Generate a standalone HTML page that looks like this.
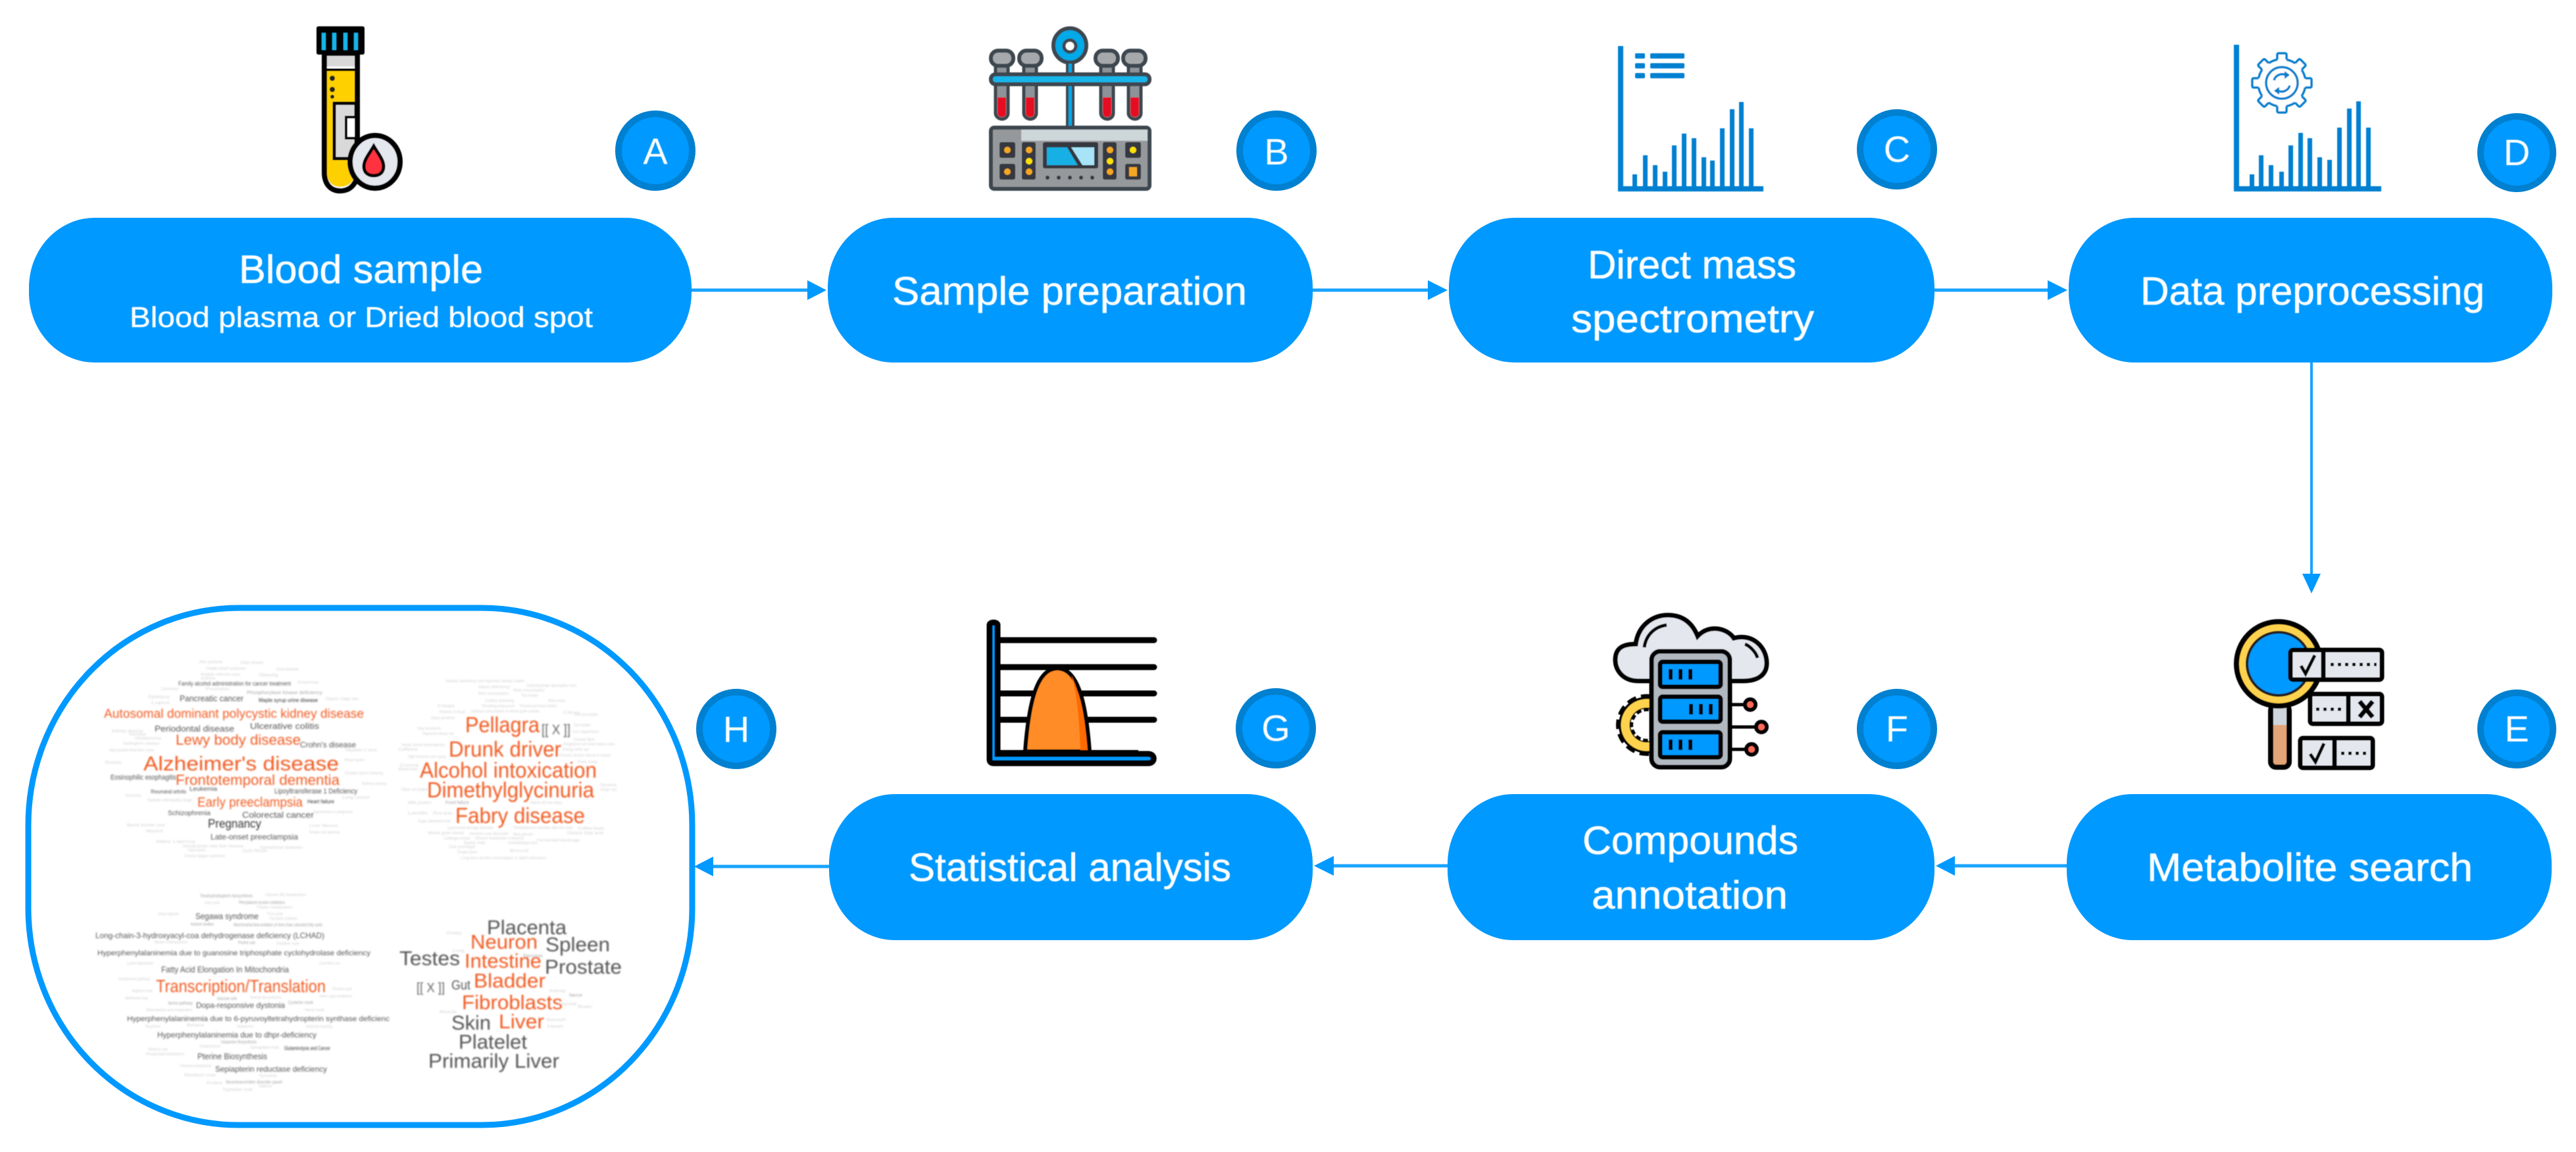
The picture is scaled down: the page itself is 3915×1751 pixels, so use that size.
<!DOCTYPE html>
<html lang="en"><head><meta charset="utf-8"><title>Direct mass spectrometry workflow</title>
<style>
html,body{margin:0;padding:0;background:#fff}
svg{display:block}
text{font-family:"Liberation Sans",sans-serif}
.t{fill:#fff;font-size:60px;stroke:#fff;stroke-width:.6px}
.s{fill:#fff;font-size:44px;stroke:#fff;stroke-width:.4px}
.b{fill:#fff;font-size:56px;text-anchor:middle}
.o{fill:#f05a22}
.g{fill:#555}
.d{fill:#333}
.f{fill:#d2d2d2;font-size:6px}
.k{fill:#a8a8a8;font-size:7px}
</style></head><body>
<svg xmlns="http://www.w3.org/2000/svg" width="3915" height="1751" viewBox="0 0 3915 1751">
<defs>
<filter id="bl" x="-5%" y="-5%" width="110%" height="110%"><feGaussianBlur stdDeviation="1"/></filter>
<filter id="bs" x="-5%" y="-5%" width="110%" height="110%"><feGaussianBlur stdDeviation="0.6"/></filter>
</defs>
<rect width="3915" height="1751" fill="#fff"/>

<!-- Connectors -->
<g stroke="#19a3ff" stroke-width="5" fill="#0099ff">
<line x1="1051" y1="441" x2="1230" y2="441"/>
<line x1="1995" y1="441" x2="2175" y2="441"/>
<line x1="2940" y1="441" x2="3116" y2="441"/>
<line x1="3513" y1="551" x2="3513" y2="875" stroke-width="4"/>
<line x1="3141" y1="1316" x2="2968" y2="1316"/>
<line x1="2200" y1="1316" x2="2024" y2="1316"/>
<line x1="1260" y1="1317" x2="1080" y2="1317"/>
</g>
<g fill="#0099ff">
<polygon points="1227,426 1256,441 1227,456"/>
<polygon points="2170,426 2200,441 2170,456"/>
<polygon points="3112,426 3142,441 3112,456"/>
<polygon points="3499,872 3527,872 3513,902"/>
<polygon points="2971,1301 2942,1316 2971,1331"/>
<polygon points="2027,1301 1997,1316 2027,1331"/>
<polygon points="1084,1302 1055,1317 1084,1332"/>
</g>

<!-- Process boxes -->
<g fill="#0099ff">
<rect x="44" y="331" width="1007" height="220" rx="100" ry="106"/>
<rect x="1258" y="331" width="737" height="220" rx="100" ry="106"/>
<rect x="2202" y="331" width="738" height="220" rx="100" ry="106"/>
<rect x="3144" y="331" width="735" height="220" rx="100" ry="106"/>
<rect x="3141" y="1207" width="737" height="222" rx="100" ry="106"/>
<rect x="2200" y="1207" width="740" height="222" rx="100" ry="106"/>
<rect x="1260" y="1207" width="735" height="222" rx="100" ry="106"/>
</g>
<g filter="url(#bs)">
<text class="t" x="363" y="430" textLength="371" lengthAdjust="spacingAndGlyphs">Blood sample</text>
<text class="s" x="197" y="497" textLength="704" lengthAdjust="spacingAndGlyphs">Blood plasma or Dried blood spot</text>
<text class="t" x="1356" y="463" textLength="539" lengthAdjust="spacingAndGlyphs">Sample preparation</text>
<text class="t" x="2413" y="423" textLength="317" lengthAdjust="spacingAndGlyphs">Direct mass</text>
<text class="t" x="2388" y="505" textLength="369" lengthAdjust="spacingAndGlyphs">spectrometry</text>
<text class="t" x="3253" y="463" textLength="523" lengthAdjust="spacingAndGlyphs">Data preprocessing</text>
<text class="t" x="3263" y="1339" textLength="495" lengthAdjust="spacingAndGlyphs">Metabolite search</text>
<text class="t" x="2405" y="1298" textLength="328" lengthAdjust="spacingAndGlyphs">Compounds</text>
<text class="t" x="2419" y="1381" textLength="298" lengthAdjust="spacingAndGlyphs">annotation</text>
<text class="t" x="1381" y="1339" textLength="490" lengthAdjust="spacingAndGlyphs">Statistical analysis</text>
</g>

<!-- Badges -->
<g fill="#0099ff" stroke="#0080d0" stroke-width="10">
<circle cx="996" cy="229" r="56"/><circle cx="1940" cy="229" r="56"/><circle cx="2883" cy="227" r="56"/><circle cx="3825" cy="232" r="55"/>
<circle cx="3825" cy="1108" r="55"/><circle cx="2883" cy="1108" r="56"/><circle cx="1939" cy="1107" r="56"/><circle cx="1119" cy="1108" r="56"/>
</g>
<g filter="url(#bs)">
<text class="b" x="996" y="249">A</text><text class="b" x="1940" y="250">B</text><text class="b" x="2883" y="246">C</text><text class="b" x="3825" y="251">D</text>
<text class="b" x="3825" y="1127">E</text><text class="b" x="2883" y="1127">F</text><text class="b" x="1939" y="1126">G</text><text class="b" x="1119" y="1128">H</text>
</g>

<!-- A: tube -->
<g filter="url(#bs)">
<path d="M493 83H543V262C543 278 533 290 517 290C501 290 493 278 493 262Z" fill="#fff" stroke="#000" stroke-width="8"/>
<rect x="497" y="85" width="42" height="16" fill="#d8d8d8"/>
<path d="M497 108H539V262C539 276 530 284 517 284C505 284 497 276 497 262Z" fill="#ffd000"/>
<line x1="493" y1="106" x2="543" y2="106" stroke="#000" stroke-width="4"/>
<circle cx="505" cy="119" r="4" fill="#222"/><circle cx="505" cy="136" r="4" fill="#222"/><circle cx="505" cy="147" r="3" fill="#222"/>
<rect x="508" y="157" width="33" height="84" fill="#d9d9d9" stroke="#000" stroke-width="5"/>
<rect x="526" y="178" width="15" height="32" fill="#fff" stroke="#000" stroke-width="4"/>
<rect x="481" y="40" width="73" height="43" rx="3" fill="#000"/>
<g fill="#19b5ea"><rect x="489" y="50" width="6" height="26"/><rect x="505" y="50" width="6" height="26"/><rect x="522" y="50" width="6" height="26"/><rect x="538" y="50" width="6" height="26"/></g>
<ellipse cx="570" cy="246" rx="38" ry="40" fill="#e4e8ee" stroke="#000" stroke-width="8"/>
<path d="M568 222C575 234 583 243 583 253C583 262 577 267 568 267C559 267 553 262 553 253C553 243 561 234 568 222Z" fill="#ff3040" stroke="#000" stroke-width="5"/>
</g>

<!-- B: rack -->
<g filter="url(#bs)">
<ellipse cx="1626" cy="69" rx="25" ry="26" fill="#00a9e8" stroke="#3d4650" stroke-width="6"/>
<circle cx="1626" cy="70" r="9" fill="#fff" stroke="#3d4650" stroke-width="5"/>
<rect x="1622" y="95" width="9" height="98" fill="#00a9e8" stroke="#3d4650" stroke-width="4"/>
<g fill="#8d9398" stroke="#3d4650" stroke-width="5">
<path d="M1513 100h19v72c0 5-4 9-9 9s-10-4-10-9Z"/><path d="M1556 100h19v72c0 5-4 9-9 9s-10-4-10-9Z"/><path d="M1673 100h19v72c0 5-4 9-9 9s-10-4-10-9Z"/><path d="M1715 100h19v72c0 5-4 9-9 9s-10-4-10-9Z"/>
</g>
<g fill="#e60d22">
<path d="M1516 148h13v24c0 4-3 6-6 6s-7-2-7-6Z"/><path d="M1559 148h13v24c0 4-3 6-6 6s-7-2-7-6Z"/><path d="M1676 148h13v24c0 4-3 6-6 6s-7-2-7-6Z"/><path d="M1718 148h13v24c0 4-3 6-6 6s-7-2-7-6Z"/>
</g>
<g fill="#a5a9ac" stroke="#3d4650" stroke-width="6">
<rect x="1506" y="77" width="34" height="23" rx="11"/><rect x="1549" y="77" width="34" height="23" rx="11"/><rect x="1665" y="77" width="34" height="23" rx="11"/><rect x="1707" y="77" width="34" height="23" rx="11"/>
</g>
<rect x="1506" y="113" width="241" height="15" rx="7" fill="#19b5ea" stroke="#3d4650" stroke-width="6"/>
<rect x="1506" y="194" width="241" height="93" rx="5" fill="#96999b" stroke="#3d4650" stroke-width="6"/>
<polygon points="1552,197 1744,197 1744,214 1552,214" fill="#cdd6d8"/>
<g fill="#34393f">
<rect x="1519" y="216" width="24" height="24" rx="3"/><rect x="1519" y="249" width="24" height="24" rx="3"/>
<rect x="1553" y="216" width="21" height="57" rx="3"/><rect x="1676" y="216" width="21" height="57" rx="3"/>
<rect x="1710" y="216" width="24" height="24" rx="3"/><rect x="1710" y="249" width="24" height="24" rx="3"/>
<rect x="1585" y="216" width="84" height="40" rx="3"/>
</g>
<polygon points="1591,224 1622,224 1638,251 1591,251" fill="#18b0e4"/>
<polygon points="1628,224 1663,224 1663,251 1645,251" fill="#a8e4f8"/>
<g fill="#f5a623"><circle cx="1531" cy="228" r="5"/><circle cx="1564" cy="228" r="5"/><circle cx="1531" cy="261" r="5"/><circle cx="1564" cy="261" r="5"/><circle cx="1687" cy="228" r="5"/><circle cx="1687" cy="261" r="5"/><rect x="1716" y="254" width="12" height="14"/></g>
<g fill="#ffe000"><circle cx="1564" cy="245" r="5"/><circle cx="1687" cy="245" r="5"/><circle cx="1722" cy="228" r="5"/></g>
<g fill="#34393f"><circle cx="1592" cy="270" r="3"/><circle cx="1609" cy="270" r="3"/><circle cx="1626" cy="270" r="3"/><circle cx="1643" cy="270" r="3"/><circle cx="1660" cy="270" r="3"/></g>
</g>

<!-- C: spectrum -->
<g fill="#0080d0" filter="url(#bs)">
<rect x="2459" y="70" width="8" height="221"/><rect x="2459" y="283" width="221" height="8"/>
<rect x="2481" y="265" width="7" height="20"/><rect x="2497" y="236" width="7" height="49"/><rect x="2512" y="251" width="7" height="34"/><rect x="2527" y="261" width="7" height="24"/><rect x="2541" y="221" width="7" height="64"/><rect x="2556" y="203" width="7" height="82"/><rect x="2571" y="210" width="7" height="75"/><rect x="2586" y="239" width="7" height="46"/><rect x="2599" y="244" width="7" height="41"/><rect x="2614" y="195" width="7" height="90"/><rect x="2629" y="166" width="7" height="119"/><rect x="2643" y="155" width="7" height="130"/><rect x="2658" y="195" width="7" height="90"/>
<rect x="2485" y="81" width="15" height="8" rx="2"/><rect x="2485" y="96" width="15" height="8" rx="2"/><rect x="2485" y="111" width="15" height="8" rx="2"/>
<rect x="2508" y="81" width="52" height="8" rx="2"/><rect x="2508" y="96" width="52" height="8" rx="2"/><rect x="2508" y="111" width="52" height="8" rx="2"/>
</g>

<!-- D: spectrum + gear -->
<g filter="url(#bs)">
<g fill="#0080d0">
<rect x="3395" y="68" width="8" height="223"/><rect x="3395" y="283" width="224" height="8"/>
<rect x="3419" y="265" width="7" height="20"/><rect x="3433" y="236" width="7" height="49"/><rect x="3448" y="251" width="7" height="34"/><rect x="3464" y="261" width="7" height="24"/><rect x="3478" y="221" width="7" height="64"/><rect x="3493" y="202" width="7" height="83"/><rect x="3507" y="210" width="7" height="75"/><rect x="3522" y="239" width="7" height="46"/><rect x="3537" y="243" width="7" height="42"/><rect x="3552" y="194" width="7" height="91"/><rect x="3567" y="165" width="7" height="120"/><rect x="3581" y="154" width="7" height="131"/><rect x="3596" y="194" width="7" height="91"/>
</g>
<g transform="translate(3468 126)" fill="#fff" stroke="#0080d0" stroke-width="3.5">
<rect x="-7" y="-45" width="14" height="18" rx="2"/>
<rect x="-7" y="-45" width="14" height="18" rx="2" transform="rotate(45)"/>
<rect x="-7" y="-45" width="14" height="18" rx="2" transform="rotate(90)"/>
<rect x="-7" y="-45" width="14" height="18" rx="2" transform="rotate(135)"/>
<rect x="-7" y="-45" width="14" height="18" rx="2" transform="rotate(180)"/>
<rect x="-7" y="-45" width="14" height="18" rx="2" transform="rotate(225)"/>
<rect x="-7" y="-45" width="14" height="18" rx="2" transform="rotate(270)"/>
<rect x="-7" y="-45" width="14" height="18" rx="2" transform="rotate(315)"/>
<circle r="36" stroke="none"/>
<circle r="36" fill="none" stroke-dasharray="14.27 14" stroke-dashoffset="-7"/>
<circle r="24" fill="none"/>
<path d="M-12 -4A13 13 0 0 1 6 -12M12 4A13 13 0 0 1 -6 12" fill="none"/>
<polygon points="4,-18 12,-12 4,-6" fill="#0080d0" stroke="none"/>
<polygon points="-4,18 -12,12 -4,6" fill="#0080d0" stroke="none"/>
</g>
</g>

<!-- E: magnifier -->
<g filter="url(#bs)">
<rect x="3451" y="1072" width="28" height="94" rx="8" fill="#e3a477" stroke="#000" stroke-width="8"/>
<rect x="3455" y="1076" width="20" height="26" fill="#cfd5dc"/>
<circle cx="3463" cy="1009" r="64" fill="#ffd24d" stroke="#000" stroke-width="8"/>
<circle cx="3463" cy="1009" r="48" fill="#0099ff" stroke="#222" stroke-width="4"/>
<g fill="#e4e8ee" stroke="#000" stroke-width="7">
<rect x="3481" y="988" width="139" height="45" rx="4"/><line x1="3531" y1="988" x2="3531" y2="1033"/>
<rect x="3511" y="1055" width="109" height="45" rx="4"/><line x1="3569" y1="1055" x2="3569" y2="1100"/>
<rect x="3496" y="1122" width="110" height="45" rx="4"/><line x1="3548" y1="1122" x2="3548" y2="1167"/>
</g>
<g fill="none" stroke="#000" stroke-width="5">
<path d="M3497 1012L3504 1024L3518 996"/><path d="M3511 1146L3519 1158L3532 1130"/><path d="M3586 1066L3606 1090M3606 1066L3586 1090" stroke-width="7"/>
</g>
<g stroke="#000" stroke-width="5" stroke-dasharray="5 6" fill="none">
<line x1="3542" y1="1010" x2="3612" y2="1010"/><line x1="3520" y1="1078" x2="3560" y2="1078"/><line x1="3558" y1="1145" x2="3598" y2="1145"/>
</g>
</g>

<!-- F: cloud server -->
<g filter="url(#bs)">
<circle cx="2503" cy="1102" r="34" fill="none" stroke="#000" stroke-width="26" stroke-dasharray="11 6"/>
<circle cx="2503" cy="1102" r="34" fill="none" stroke="#000" stroke-width="18"/>
<circle cx="2503" cy="1102" r="33" fill="none" stroke="#ffd24d" stroke-width="13"/>
<path d="M2490 1035C2466 1035 2455 1018 2455 1003C2455 984 2468 979 2486 979C2490 950 2512 935 2535 935C2558 935 2572 947 2580 967C2598 948 2625 955 2635 970C2665 962 2685 985 2685 1008C2685 1028 2668 1035 2650 1035Z" fill="#e4e8ee" stroke="#000" stroke-width="7"/>
<path d="M2499 984C2501 968 2512 953 2533 950M2652 979C2660 982 2669 992 2671 1000" fill="none" stroke="#000" stroke-width="5"/>
<rect x="2510" y="990" width="119" height="176" rx="13" fill="#b1b8c0" stroke="#000" stroke-width="7"/>
<g fill="#0099ff" stroke="#000" stroke-width="7">
<rect x="2523" y="1006" width="92" height="38" rx="4"/><rect x="2523" y="1059" width="92" height="38" rx="4"/><rect x="2523" y="1113" width="92" height="38" rx="4"/>
</g>
<g fill="#000">
<rect x="2536" y="1017" width="6" height="16"/><rect x="2551" y="1017" width="6" height="16"/><rect x="2566" y="1017" width="6" height="16"/>
<rect x="2567" y="1070" width="6" height="16"/><rect x="2582" y="1070" width="6" height="16"/><rect x="2597" y="1070" width="6" height="16"/>
<rect x="2536" y="1124" width="6" height="16"/><rect x="2551" y="1124" width="6" height="16"/><rect x="2566" y="1124" width="6" height="16"/>
</g>
<g stroke="#000" stroke-width="5"><line x1="2632" y1="1071" x2="2655" y2="1071"/><line x1="2632" y1="1105" x2="2672" y2="1105"/><line x1="2632" y1="1139" x2="2655" y2="1139"/></g>
<g fill="#ff6b5a" stroke="#000" stroke-width="6"><circle cx="2660" cy="1071" r="8"/><circle cx="2677" cy="1105" r="8"/><circle cx="2662" cy="1139" r="8"/></g>
</g>

<!-- G: bell chart -->
<g filter="url(#bs)">
<g stroke="#000" stroke-width="9" stroke-linecap="round"><line x1="1518" y1="973" x2="1754" y2="973"/><line x1="1518" y1="1014" x2="1754" y2="1014"/><line x1="1518" y1="1054" x2="1754" y2="1054"/><line x1="1518" y1="1094" x2="1754" y2="1094"/></g>
<line x1="1518" y1="1143" x2="1730" y2="1143" stroke="#000" stroke-width="6"/>
<path d="M1558 1142C1564 1060 1578 1016 1607 1016C1636 1016 1650 1060 1656 1142Z" fill="#ff8c26" stroke="#000" stroke-width="6"/>
<path d="M1628 1026C1640 1050 1649 1090 1653 1140H1642C1640 1090 1636 1050 1628 1026Z" fill="#ff6a00"/>
<path d="M1504 950C1504 945 1516 945 1516 950V1146H1745C1756 1146 1756 1160 1745 1160H1510C1506 1160 1504 1158 1504 1154Z" fill="#0099ff" stroke="#000" stroke-width="9"/>
</g>

<!-- H: word clouds frame -->
<rect x="43" y="924" width="1009" height="786" rx="320" ry="330" fill="#fff" stroke="#0099ff" stroke-width="9"/>

<g filter="url(#bl)">
<!-- Diseases -->
<text class="o" x="218" y="1171" font-size="31" textLength="297" lengthAdjust="spacingAndGlyphs">Alzheimer's disease</text>
<text class="o" x="158" y="1091" font-size="19" textLength="395" lengthAdjust="spacingAndGlyphs">Autosomal  dominant polycystic kidney disease</text>
<text class="o" x="267" y="1132" font-size="22" textLength="190" lengthAdjust="spacingAndGlyphs">Lewy body disease</text>
<text class="o" x="267" y="1193" font-size="22" textLength="249" lengthAdjust="spacingAndGlyphs">Frontotemporal dementia</text>
<text class="o" x="300" y="1226" font-size="20" textLength="160" lengthAdjust="spacingAndGlyphs">Early preeclampsia</text>
<text class="g" x="273" y="1066" font-size="13" textLength="97" lengthAdjust="spacingAndGlyphs">Pancreatic cancer</text>
<text class="g" x="235" y="1112" font-size="13" textLength="121" lengthAdjust="spacingAndGlyphs">Periodontal disease</text>
<text class="g" x="380" y="1108" font-size="13" textLength="105" lengthAdjust="spacingAndGlyphs">Ulcerative colitis</text>
<text class="g" x="456" y="1136" font-size="12" textLength="85" lengthAdjust="spacingAndGlyphs">Crohn's disease</text>
<text class="g" x="168" y="1185" font-size="11" textLength="100" lengthAdjust="spacingAndGlyphs">Eosinophilic esophagitis</text>
<text class="g" x="288" y="1202" font-size="9" textLength="42" lengthAdjust="spacingAndGlyphs">Leukemia</text>
<text class="g" x="229" y="1206" font-size="8" textLength="54" lengthAdjust="spacingAndGlyphs">Rheumatoid arthritis</text>
<text class="g" x="417" y="1206" font-size="11" textLength="126" lengthAdjust="spacingAndGlyphs">Lipoyltransferase 1 Deficiency</text>
<text class="d" x="467" y="1221" font-size="8" textLength="41" lengthAdjust="spacingAndGlyphs">Heart failure</text>
<text class="g" x="255" y="1239" font-size="10" textLength="65" lengthAdjust="spacingAndGlyphs">Schizophrenia</text>
<text class="g" x="368" y="1243" font-size="13" textLength="109" lengthAdjust="spacingAndGlyphs">Colorectal cancer</text>
<text class="d" x="316" y="1258" font-size="18" textLength="81" lengthAdjust="spacingAndGlyphs">Pregnancy</text>
<text class="g" x="320" y="1276" font-size="12" textLength="133" lengthAdjust="spacingAndGlyphs">Late-onset preeclampsia</text>
<text class="g" x="271" y="1042" font-size="9" textLength="171" lengthAdjust="spacingAndGlyphs">Family alcohol administration for cancer treatment</text>
<text class="d" x="393" y="1067" font-size="8" textLength="90" lengthAdjust="spacingAndGlyphs">Maple syrup urine disease</text>
<text class="k" x="375" y="1055" textLength="115" lengthAdjust="spacingAndGlyphs">Phosphorylase kinase deficiency</text>
<text class="f" x="303" y="1008" textLength="35" lengthAdjust="spacingAndGlyphs">Rett syndrome</text>
<text class="f" x="365" y="1009" textLength="35" lengthAdjust="spacingAndGlyphs">Celiac disease</text>
<text class="f" x="313" y="1018" textLength="60" lengthAdjust="spacingAndGlyphs">Irritable bowel syndrome</text>
<text class="f" x="420" y="1019" textLength="34" lengthAdjust="spacingAndGlyphs">Gout disease</text>
<text class="f" x="305" y="1027" textLength="60" lengthAdjust="spacingAndGlyphs">Multiple sclerosis case</text>
<text class="f" x="393" y="1028" textLength="30" lengthAdjust="spacingAndGlyphs">Obesity</text>
<text class="f" x="305" y="1033" textLength="22" lengthAdjust="spacingAndGlyphs">Asthma</text>
<text class="f" x="452" y="1039" textLength="32" lengthAdjust="spacingAndGlyphs">Anemia</text>
<text class="f" x="245" y="1049" textLength="26" lengthAdjust="spacingAndGlyphs">Cirrhosis</text>
<text class="f" x="313" y="1049" textLength="36" lengthAdjust="spacingAndGlyphs">Psoriasis</text>
<text class="f" x="225" y="1061" textLength="33" lengthAdjust="spacingAndGlyphs">Epilepsy</text>
<text class="f" x="495" y="1064" textLength="50" lengthAdjust="spacingAndGlyphs">Sepsis stage two</text>
<text class="f" x="230" y="1070" textLength="28" lengthAdjust="spacingAndGlyphs">Lupus</text>
<text class="f" x="196" y="1118" textLength="26" lengthAdjust="spacingAndGlyphs">Stroke</text>
<text class="f" x="170" y="1113" textLength="48" lengthAdjust="spacingAndGlyphs">Kidney disease</text>
<text class="f" x="205" y="1124" textLength="40" lengthAdjust="spacingAndGlyphs">Glioblastoma</text>
<text class="f" x="187" y="1132" textLength="55" lengthAdjust="spacingAndGlyphs">Huntington's disease</text>
<text class="f" x="166" y="1142" textLength="68" lengthAdjust="spacingAndGlyphs">Myocardial infarction case</text>
<text class="f" x="525" y="1142" textLength="48" lengthAdjust="spacingAndGlyphs">Hepatitis C virus</text>
<text class="f" x="160" y="1161" textLength="25" lengthAdjust="spacingAndGlyphs">Rickets</text>
<text class="f" x="524" y="1157" textLength="30" lengthAdjust="spacingAndGlyphs">Breast cancer</text>
<text class="f" x="524" y="1177" textLength="58" lengthAdjust="spacingAndGlyphs">Prostate cancer screening</text>
<text class="f" x="550" y="1193" textLength="38" lengthAdjust="spacingAndGlyphs">Bulimia nervosa</text>
<text class="f" x="190" y="1211" textLength="24" lengthAdjust="spacingAndGlyphs">Anorexia</text>
<text class="f" x="224" y="1218" textLength="68" lengthAdjust="spacingAndGlyphs">Diabetic retinopathy stage</text>
<text class="f" x="520" y="1214" textLength="42" lengthAdjust="spacingAndGlyphs">Lung cancer</text>
<text class="f" x="476" y="1236" textLength="60" lengthAdjust="spacingAndGlyphs">Hypertension in pregnancy</text>
<text class="f" x="193" y="1256" textLength="58" lengthAdjust="spacingAndGlyphs">Bipolar disorder case</text>
<text class="f" x="470" y="1257" textLength="44" lengthAdjust="spacingAndGlyphs">Liver fibrosis</text>
<text class="f" x="222" y="1265" textLength="26" lengthAdjust="spacingAndGlyphs">Migraine</text>
<text class="f" x="470" y="1267" textLength="46" lengthAdjust="spacingAndGlyphs">Sickle cell anemia</text>
<text class="f" x="263" y="1281" textLength="34" lengthAdjust="spacingAndGlyphs">Leprosy</text>
<text class="f" x="237" y="1281" textLength="22" lengthAdjust="spacingAndGlyphs">Malaria</text>
<text class="f" x="278" y="1288" textLength="92" lengthAdjust="spacingAndGlyphs">Nonalcoholic fatty liver disease</text>
<text class="f" x="395" y="1290" textLength="65" lengthAdjust="spacingAndGlyphs">Gestational diabetes</text>
<text class="f" x="285" y="1294" textLength="28" lengthAdjust="spacingAndGlyphs">Tuberculosis</text>
<text class="f" x="368" y="1295" textLength="38" lengthAdjust="spacingAndGlyphs">Cystic fibrosis</text>
<text class="f" x="280" y="1303" textLength="62" lengthAdjust="spacingAndGlyphs">Chronic fatigue syndrome</text>

<!-- Toxins/Foods -->
<text class="o" x="707" y="1113" font-size="33" textLength="113" lengthAdjust="spacingAndGlyphs">Pellagra</text>
<text fill="#666" x="823" y="1116" font-size="21" textLength="44" lengthAdjust="spacingAndGlyphs">[[ X ]]</text>
<text class="o" x="682" y="1150" font-size="33" textLength="171" lengthAdjust="spacingAndGlyphs">Drunk driver</text>
<text class="o" x="638" y="1182" font-size="33" textLength="269" lengthAdjust="spacingAndGlyphs">Alcohol intoxication</text>
<text class="o" x="649" y="1212" font-size="33" textLength="254" lengthAdjust="spacingAndGlyphs">Dimethylglycinuria</text>
<text class="o" x="692" y="1251" font-size="33" textLength="197" lengthAdjust="spacingAndGlyphs">Fabry disease</text>
<text class="k" x="677" y="1222" textLength="36" lengthAdjust="spacingAndGlyphs">Food failure</text>
<text class="f" x="677" y="1037" textLength="120" lengthAdjust="spacingAndGlyphs">Vitamin deficiency and reported dietary intake</text>
<text class="f" x="727" y="1046" textLength="48" lengthAdjust="spacingAndGlyphs">Niacin deficiency</text>
<text class="f" x="800" y="1044" textLength="76" lengthAdjust="spacingAndGlyphs">Carbohydrate absorption test</text>
<text class="f" x="727" y="1056" textLength="46" lengthAdjust="spacingAndGlyphs">Beer consumption</text>
<text class="f" x="780" y="1051" textLength="48" lengthAdjust="spacingAndGlyphs">Wine consumption</text>
<text class="f" x="737" y="1067" textLength="44" lengthAdjust="spacingAndGlyphs">Coffee drinking</text>
<text class="f" x="792" y="1059" textLength="26" lengthAdjust="spacingAndGlyphs">Tea intake</text>
<text class="f" x="833" y="1067" textLength="26" lengthAdjust="spacingAndGlyphs">Red meat</text>
<text class="f" x="732" y="1075" textLength="50" lengthAdjust="spacingAndGlyphs">Smoking exposure</text>
<text class="f" x="790" y="1075" textLength="56" lengthAdjust="spacingAndGlyphs">Processed food intake</text>
<text class="f" x="665" y="1075" textLength="26" lengthAdjust="spacingAndGlyphs">Folate</text>
<text class="f" x="667" y="1084" textLength="40" lengthAdjust="spacingAndGlyphs">Vitamin D level</text>
<text class="f" x="716" y="1083" textLength="104" lengthAdjust="spacingAndGlyphs">Habitual consumption of whole grain cereals</text>
<text class="f" x="856" y="1085" textLength="26" lengthAdjust="spacingAndGlyphs">Citrus</text>
<text class="f" x="655" y="1093" textLength="36" lengthAdjust="spacingAndGlyphs">Dairy product</text>
<text class="f" x="873" y="1088" textLength="36" lengthAdjust="spacingAndGlyphs">Fish consumption</text>
<text class="f" x="634" y="1109" textLength="36" lengthAdjust="spacingAndGlyphs">Soy products</text>
<text class="f" x="872" y="1104" textLength="26" lengthAdjust="spacingAndGlyphs">Nut intake</text>
<text class="f" x="642" y="1117" textLength="48" lengthAdjust="spacingAndGlyphs">Vegetarian dietary use</text>
<text class="f" x="870" y="1114" textLength="40" lengthAdjust="spacingAndGlyphs">Iron supplement</text>
<text class="f" x="872" y="1126" textLength="32" lengthAdjust="spacingAndGlyphs">Cereal fibre</text>
<text class="f" x="610" y="1134" textLength="66" lengthAdjust="spacingAndGlyphs">Hepatic alcohol dehydrogenase</text>
<text class="f" x="856" y="1133" textLength="78" lengthAdjust="spacingAndGlyphs">Polyphenol rich food intake score</text>
<text class="f" x="605" y="1141" textLength="30" lengthAdjust="spacingAndGlyphs">Caffeine</text>
<text class="f" x="855" y="1141" textLength="40" lengthAdjust="spacingAndGlyphs">Energy drink use</text>
<text class="f" x="620" y="1152" textLength="58" lengthAdjust="spacingAndGlyphs">High fructose corn syrup</text>
<text class="f" x="850" y="1150" textLength="78" lengthAdjust="spacingAndGlyphs">Chronic alcohol abuse in cohort</text>
<text class="f" x="608" y="1165" textLength="28" lengthAdjust="spacingAndGlyphs">Cocoa</text>
<text class="f" x="878" y="1160" textLength="30" lengthAdjust="spacingAndGlyphs">Pork meat</text>
<text class="f" x="605" y="1171" textLength="30" lengthAdjust="spacingAndGlyphs">Wheat bran</text>
<text class="f" x="610" y="1202" textLength="40" lengthAdjust="spacingAndGlyphs">Olive oil intake</text>
<text class="f" x="912" y="1195" textLength="25" lengthAdjust="spacingAndGlyphs">Sesame</text>
<text class="f" x="912" y="1202" textLength="25" lengthAdjust="spacingAndGlyphs">Ginger root</text>
<text class="f" x="620" y="1222" textLength="36" lengthAdjust="spacingAndGlyphs">Milk protein</text>
<text class="f" x="805" y="1222" textLength="50" lengthAdjust="spacingAndGlyphs">Vitamin B3 low status</text>
<text class="f" x="620" y="1238" textLength="30" lengthAdjust="spacingAndGlyphs">Lentils</text>
<text class="f" x="658" y="1238" textLength="30" lengthAdjust="spacingAndGlyphs">Rice bran</text>
<text class="f" x="635" y="1250" textLength="50" lengthAdjust="spacingAndGlyphs">Sugar sweetened drink</text>
<text class="f" x="680" y="1260" textLength="70" lengthAdjust="spacingAndGlyphs">Lysosomal storage disorder</text>
<text class="f" x="780" y="1260" textLength="90" lengthAdjust="spacingAndGlyphs">Trimethylamine excretion after fish meal</text>
<text class="f" x="878" y="1261" textLength="40" lengthAdjust="spacingAndGlyphs">Coffee bean</text>
<text class="f" x="650" y="1268" textLength="55" lengthAdjust="spacingAndGlyphs">Whole grain bread</text>
<text class="f" x="713" y="1269" textLength="60" lengthAdjust="spacingAndGlyphs">Alcohol use disorder</text>
<text class="f" x="780" y="1270" textLength="30" lengthAdjust="spacingAndGlyphs">Beta glucan</text>
<text class="f" x="862" y="1268" textLength="55" lengthAdjust="spacingAndGlyphs">Dietary fatty acid</text>
<text class="f" x="675" y="1276" textLength="40" lengthAdjust="spacingAndGlyphs">Cabbage extract</text>
<text class="f" x="722" y="1276" textLength="74" lengthAdjust="spacingAndGlyphs">Ethanol metabolite in plasma</text>
<text class="f" x="816" y="1279" textLength="65" lengthAdjust="spacingAndGlyphs">Fermented beverage</text>
<text class="f" x="705" y="1283" textLength="32" lengthAdjust="spacingAndGlyphs">Barley malt</text>
<text class="f" x="772" y="1283" textLength="44" lengthAdjust="spacingAndGlyphs">Acetaldehyde test</text>
<text class="f" x="682" y="1289" textLength="40" lengthAdjust="spacingAndGlyphs">Oat porridge</text>
<text class="f" x="695" y="1297" textLength="30" lengthAdjust="spacingAndGlyphs">Grape juice</text>
<text class="f" x="775" y="1295" textLength="28" lengthAdjust="spacingAndGlyphs">Broccoli</text>
<text class="f" x="700" y="1306" textLength="130" lengthAdjust="spacingAndGlyphs">Long term alcohol consumption in adult volunteers</text>

<!-- Pathways -->
<text class="o" x="237" y="1508" font-size="27" textLength="258" lengthAdjust="spacingAndGlyphs">Transcription/Translation</text>
<text class="g" x="297" y="1397" font-size="13" textLength="96" lengthAdjust="spacingAndGlyphs">Segawa syndrome</text>
<text class="g" x="145" y="1426" font-size="12" textLength="348" lengthAdjust="spacingAndGlyphs">Long-chain-3-hydroxyacyl-coa dehydrogenase deficiency (LCHAD)</text>
<text class="g" x="148" y="1452" font-size="11" textLength="415" lengthAdjust="spacingAndGlyphs">Hyperphenylalaninemia due to guanosine triphosphate cyclohydrolase deficiency</text>
<text class="g" x="245" y="1478" font-size="13" textLength="194" lengthAdjust="spacingAndGlyphs">Fatty Acid Elongation In Mitochondria</text>
<text class="g" x="298" y="1532" font-size="12" textLength="135" lengthAdjust="spacingAndGlyphs">Dopa-responsive dystonia</text>
<text class="g" x="193" y="1552" font-size="11" textLength="399" lengthAdjust="spacingAndGlyphs">Hyperphenylalaninemia due to 6-pyruvoyltetrahydropterin synthase deficienc</text>
<text class="g" x="239" y="1577" font-size="12" textLength="242" lengthAdjust="spacingAndGlyphs">Hyperphenylalaninemia due to dhpr-deficiency</text>
<text class="d" x="432" y="1596" font-size="8" textLength="70" lengthAdjust="spacingAndGlyphs">Glutaminolysis and Cancer</text>
<text class="g" x="300" y="1610" font-size="13" textLength="106" lengthAdjust="spacingAndGlyphs">Pterine Biosynthesis</text>
<text class="g" x="327" y="1629" font-size="12" textLength="170" lengthAdjust="spacingAndGlyphs">Sepiapterin reductase deficiency</text>
<text class="k" x="304" y="1364" textLength="80" lengthAdjust="spacingAndGlyphs">Tetrahydrobiopterin biosynthesis</text>
<text class="f" x="403" y="1362" textLength="62" lengthAdjust="spacingAndGlyphs">Vitamin B6 metabolism</text>
<text class="k" x="363" y="1374" textLength="70" lengthAdjust="spacingAndGlyphs">Phenylalanine tyrosine metabolism</text>
<text class="f" x="310" y="1374" textLength="24" lengthAdjust="spacingAndGlyphs">Urea cycle</text>
<text class="f" x="390" y="1381" textLength="55" lengthAdjust="spacingAndGlyphs">Folate metabolism</text>
<text class="f" x="240" y="1391" textLength="32" lengthAdjust="spacingAndGlyphs">Glycolysis</text>
<text class="f" x="405" y="1391" textLength="25" lengthAdjust="spacingAndGlyphs">TCA cycle</text>
<text class="f" x="410" y="1398" textLength="42" lengthAdjust="spacingAndGlyphs">Pyruvate oxidation</text>
<text class="k" x="290" y="1407" textLength="35" lengthAdjust="spacingAndGlyphs">Ketone bodies</text>
<text class="k" x="355" y="1408" textLength="135" lengthAdjust="spacingAndGlyphs">Mitochondrial beta-oxidation of short chain saturated fatty acids</text>
<text class="f" x="235" y="1434" textLength="50" lengthAdjust="spacingAndGlyphs">Biotin metabolism</text>
<text class="k" x="362" y="1435" textLength="26" lengthAdjust="spacingAndGlyphs">Purine use</text>
<text class="f" x="420" y="1436" textLength="35" lengthAdjust="spacingAndGlyphs">Histidine route</text>
<text class="f" x="193" y="1466" textLength="40" lengthAdjust="spacingAndGlyphs">Lysine degradation</text>
<text class="f" x="485" y="1466" textLength="32" lengthAdjust="spacingAndGlyphs">Carnitine use</text>
<text class="f" x="180" y="1490" textLength="48" lengthAdjust="spacingAndGlyphs">Glutathione pathway</text>
<text class="f" x="200" y="1508" textLength="32" lengthAdjust="spacingAndGlyphs">Arginine route</text>
<text class="f" x="505" y="1505" textLength="30" lengthAdjust="spacingAndGlyphs">Pentose route</text>
<text class="f" x="190" y="1519" textLength="35" lengthAdjust="spacingAndGlyphs">Methionine loop</text>
<text class="k" x="330" y="1520" textLength="30" lengthAdjust="spacingAndGlyphs">Glucose sink</text>
<text class="f" x="380" y="1518" textLength="48" lengthAdjust="spacingAndGlyphs">Steroid biosynthesis</text>
<text class="f" x="485" y="1516" textLength="50" lengthAdjust="spacingAndGlyphs">Amino sugar metabolism</text>
<text class="k" x="255" y="1527" textLength="38" lengthAdjust="spacingAndGlyphs">Serine pathway</text>
<text class="k" x="438" y="1526" textLength="38" lengthAdjust="spacingAndGlyphs">Cysteine route</text>
<text class="f" x="222" y="1537" textLength="70" lengthAdjust="spacingAndGlyphs">Selenoamino acid metabolism</text>
<text class="f" x="463" y="1537" textLength="30" lengthAdjust="spacingAndGlyphs">Heme route</text>
<text class="f" x="220" y="1562" textLength="24" lengthAdjust="spacingAndGlyphs">Taurine</text>
<text class="f" x="284" y="1560" textLength="26" lengthAdjust="spacingAndGlyphs">Betaine</text>
<text class="f" x="360" y="1562" textLength="25" lengthAdjust="spacingAndGlyphs">Ubiquinone</text>
<text class="f" x="465" y="1562" textLength="40" lengthAdjust="spacingAndGlyphs">Ammonia recycling</text>
<text class="k" x="336" y="1586" textLength="54" lengthAdjust="spacingAndGlyphs">Dopamine Biosynthesis</text>
<text class="f" x="303" y="1592" textLength="32" lengthAdjust="spacingAndGlyphs">Galactose</text>
<text class="f" x="380" y="1594" textLength="44" lengthAdjust="spacingAndGlyphs">Sphingolipid route</text>
<text class="f" x="225" y="1597" textLength="30" lengthAdjust="spacingAndGlyphs">Retinol use</text>
<text class="f" x="222" y="1604" textLength="58" lengthAdjust="spacingAndGlyphs">Phospholipid biosynthesis</text>
<text class="f" x="273" y="1622" textLength="48" lengthAdjust="spacingAndGlyphs">Thiamine metabolism</text>
<text class="f" x="280" y="1636" textLength="48" lengthAdjust="spacingAndGlyphs">Riboflavin route</text>
<text class="f" x="393" y="1637" textLength="28" lengthAdjust="spacingAndGlyphs">Tyrosine</text>
<text class="k" x="343" y="1647" textLength="86" lengthAdjust="spacingAndGlyphs">Neurotransmitter disorder panel</text>
<text class="f" x="314" y="1648" textLength="24" lengthAdjust="spacingAndGlyphs">Proline</text>
<text class="f" x="338" y="1658" textLength="46" lengthAdjust="spacingAndGlyphs">Tryptophan route</text>
<text class="f" x="393" y="1653" textLength="20" lengthAdjust="spacingAndGlyphs">Valine</text>

<!-- Tissues -->
<text class="g" x="740" y="1420" font-size="31" textLength="121" lengthAdjust="spacingAndGlyphs">Placenta</text>
<text class="o" x="715" y="1442" font-size="31" textLength="102" lengthAdjust="spacingAndGlyphs">Neuron</text>
<text class="g" x="829" y="1446" font-size="31" textLength="98" lengthAdjust="spacingAndGlyphs">Spleen</text>
<text class="g" x="607" y="1467" font-size="31" textLength="92" lengthAdjust="spacingAndGlyphs">Testes</text>
<text class="o" x="706" y="1471" font-size="31" textLength="117" lengthAdjust="spacingAndGlyphs">Intestine</text>
<text class="g" x="828" y="1480" font-size="31" textLength="117" lengthAdjust="spacingAndGlyphs">Prostate</text>
<text fill="#666" x="633" y="1508" font-size="20" textLength="43" lengthAdjust="spacingAndGlyphs">[[ X ]]</text>
<text class="g" x="686" y="1504" font-size="20" textLength="29" lengthAdjust="spacingAndGlyphs">Gut</text>
<text class="o" x="720" y="1501" font-size="31" textLength="109" lengthAdjust="spacingAndGlyphs">Bladder</text>
<text class="o" x="702" y="1534" font-size="31" textLength="153" lengthAdjust="spacingAndGlyphs">Fibroblasts</text>
<text class="g" x="686" y="1565" font-size="31" textLength="60" lengthAdjust="spacingAndGlyphs">Skin</text>
<text class="o" x="758" y="1563" font-size="31" textLength="69" lengthAdjust="spacingAndGlyphs">Liver</text>
<text class="g" x="697" y="1594" font-size="31" textLength="104" lengthAdjust="spacingAndGlyphs">Platelet</text>
<text class="g" x="651" y="1623" font-size="31" textLength="199" lengthAdjust="spacingAndGlyphs">Primarily Liver</text>
<text class="k" x="795" y="1455" textLength="30" lengthAdjust="spacingAndGlyphs">Pancreas</text>
<text class="f" x="678" y="1420" textLength="24" lengthAdjust="spacingAndGlyphs">Ovary</text>
<text class="f" x="688" y="1447" textLength="18" lengthAdjust="spacingAndGlyphs">Lung</text>
<text class="f" x="835" y="1508" textLength="25" lengthAdjust="spacingAndGlyphs">Kidney</text>
<text class="k" x="865" y="1515" textLength="20" lengthAdjust="spacingAndGlyphs">Nerve</text>
<text class="f" x="848" y="1528" textLength="28" lengthAdjust="spacingAndGlyphs">Thyroid</text>
<text class="f" x="878" y="1532" textLength="22" lengthAdjust="spacingAndGlyphs">Brain</text>
<text class="f" x="668" y="1540" textLength="26" lengthAdjust="spacingAndGlyphs">Muscle</text>
<text class="f" x="830" y="1552" textLength="30" lengthAdjust="spacingAndGlyphs">Stomach</text>
<text class="f" x="832" y="1562" textLength="24" lengthAdjust="spacingAndGlyphs">Heart</text>
</g>
</svg>
</body></html>
